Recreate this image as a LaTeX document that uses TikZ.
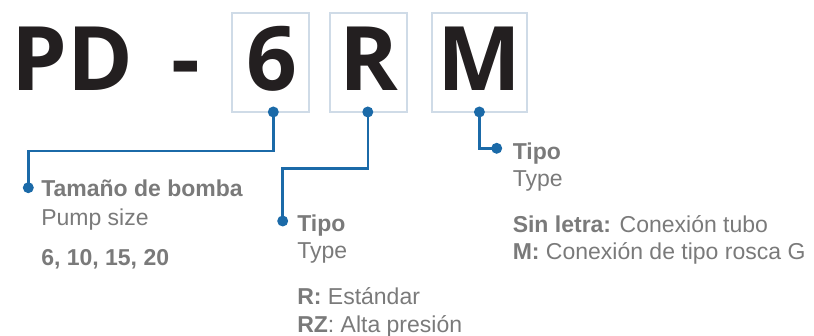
\documentclass[tikz,border=0pt]{standalone}
\usepackage{fontspec}
\setmainfont{Liberation Sans}
\newfontfamily\codefont{Open Sans}
\usetikzlibrary{positioning}
\definecolor{codeblue}{HTML}{1B6AA8}
\definecolor{boxline}{HTML}{CFDBE7}
\definecolor{labelgray}{HTML}{7A7A7A}
\definecolor{codeblack}{HTML}{231F20}
\def\textsz{\fontsize{23}{28}\selectfont}
\def\codesz{\fontsize{89}{89}\selectfont}
\def\codebase{90.7}

\begin{document}
\begin{tikzpicture}[x=1pt,y=-1pt,line width=2.5pt,draw=codeblue]
            \tikzstyle{code letter}=[anchor=base,inner sep=0pt,text=codeblack,font=\codefont\bfseries\codesz]
            \tikzstyle{code box}=[draw=boxline,line width=2pt,minimum height=98.5pt,inner sep=0pt]
            \tikzstyle{dot}=[circle,fill=codeblue,minimum size=11pt,inner sep=0pt]
            \tikzstyle{annot}=[anchor=base west,inner sep=0pt,text=labelgray,font=\textsz]

            \useasboundingbox (0,0) rectangle (814,336);

            % Draw the boxes round the code letters
            \foreach \name / \x / \w in {6/270.25/77.5, R/368.25/77.5, M/479.5/95}
                \node[code box, minimum width=\w pt] (B-\name) at (\x,62.75) {};

            % The code itself
            \node[code letter, anchor=base west] (PD) at (10,\codebase) {PD};
            \node[code letter] (DASH) at (185.5,\codebase) {-};
            \foreach \name / \x in {6/272.3, R/369.3, M/479}
                \node[code letter] (C-\name) at (\x,\codebase) {\name};

            % Dots on the boxes and at the labels
            \foreach \name / \x in {6/273.3, R/367.8, M/479.4}
                \node[dot] (D-\name) at (\x,112) {};
            \node[dot] (L-6) at (28.3,187.7) {};
            \node[dot] (L-R) at (282.7,221) {};
            \node[dot] (L-M) at (496.7,148.3) {};

            % Connect every box with its label
            \draw (D-6.center) -- ++(0,39) -| (L-6.center);
            \draw (D-R.center) -- ++(0,56.3) -| (L-R.center);
            \draw (D-M.center) |- (L-M.center);

            % Annotate the letters
            \node[annot] (T-6a) at (40,197) {\textbf{Tamaño de bomba}};
            \node[annot] (T-6b) at (40,225.5) {Pump size};
            \node[annot] (T-6c) at (40,266) {\textbf{6, 10, 15, 20}};

            \node[annot] (T-Ra) at (296,232) {\textbf{Tipo}};
            \node[annot] (T-Rb) at (296,259) {Type};
            \node[annot] (T-Rc) at (296,304.5) {\textbf{R:} Estándar};
            \node[annot] (T-Rd) at (296,332.5) {\textbf{RZ}: Alta presión};

            \node[annot] (T-Ma) at (511.5,159.3) {\textbf{Tipo}};
            \node[annot] (T-Mb) at (511.5,186.7) {Type};
            \node[annot] (T-Mc) at (511.5,232.7) {\textbf{Sin letra:} Conexión tubo};
            \node[annot] (T-Md) at (511.5,260) {\textbf{M:} Conexión de tipo rosca G};
\end{tikzpicture}
\end{document}
